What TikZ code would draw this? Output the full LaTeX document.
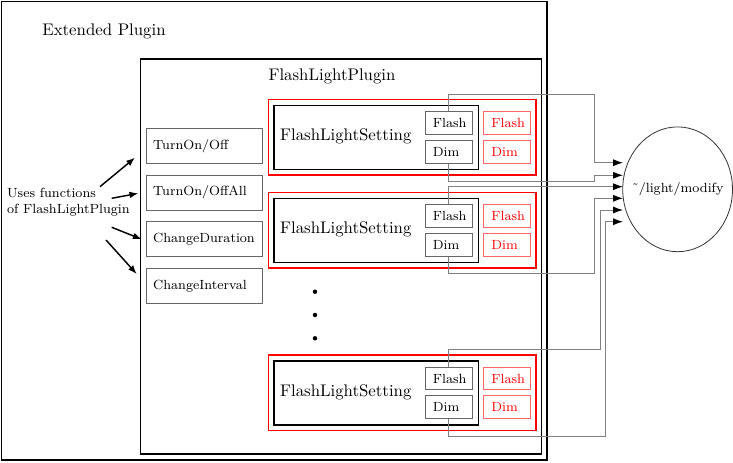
\documentclass[tikz,border=0pt]{standalone}
\usetikzlibrary{arrows.meta,shapes.geometric,fit}
\begin{document}
\begin{tikzpicture}[x=0.625pt,y=-0.625pt,
  big/.style={font=\fontsize{10.5}{12.6}\selectfont},
  small/.style={font=\fontsize{8.3}{9.9}\selectfont},
  frame/.style={draw=black,line width=0.9pt,inner sep=0pt},
  redframe/.style={draw=red,line width=0.9pt,inner sep=0pt},
  cell/.style={draw=black!60,line width=0.5pt,inner sep=0pt},
  redcell/.style={draw=red!60,line width=0.5pt,inner sep=0pt},
  button/.style={draw=black!60,line width=0.5pt,inner sep=0pt},
  conn/.style={draw=black!50,line width=0.6pt,-{Latex[length=6.2pt,width=4.4pt,color=black]}},
  push/.style={draw=black,line width=0.9pt,-{Latex[length=5.5pt,width=4.2pt]}},
  dot/.style={circle,fill=black,inner sep=0pt,minimum size=2.8pt}
]
\useasboundingbox (0,0) rectangle (733,462);

% outer frames
\node[frame,fit={(1.5,1.5) (547,460)}] (outer) {};
\node[big] (extl) at (104,31) {Extended Plugin};
\node[frame,fit={(140.7,59) (541.3,454)}] (plugin) {};
\node[big] (plugl) at (332,76) {FlashLightPlugin};

% buttons
\node[button,fit={(146,128.3) (262.3,163.3)}] (bt1) {};
\node[small,anchor=west] (bl1) at (147.5,145.8) {TurnOn/Off};
\node[button,fit={(146,175) (262.3,210)}] (bt2) {};
\node[small,anchor=west] (bl2) at (147.5,192.5) {TurnOn/OffAll};
\node[button,fit={(146,221.7) (262.3,256.7)}] (bt3) {};
\node[small,anchor=west] (bl3) at (147.5,239.2) {ChangeDuration};
\node[button,fit={(146,268.3) (262.3,303.3)}] (bt4) {};
\node[small,anchor=west] (bl4) at (147.5,285.8) {ChangeInterval};

% user text and arrows
\node[small,anchor=west,align=left] (uses) at (1.5,202) {Uses functions\\of FlashLightPlugin};
\coordinate (a1) at (100,186.7);  \coordinate (b1) at (135,157.7);
\coordinate (a2) at (111.7,198.3); \coordinate (b2) at (138.3,193.3);
\coordinate (a3) at (111.7,227.3); \coordinate (b3) at (141.7,239.3);
\coordinate (a4) at (106,240);    \coordinate (b4) at (136.7,274);
\draw[push] (a1) -- (b1);
\draw[push] (a2) -- (b2);
\draw[push] (a3) -- (b3);
\draw[push] (a4) -- (b4);

% setting blocks
\foreach \o/\n in {0/1,93/2,255.5/3}{
  \node[redframe,fit={(268.3,{99.7+\o}) (536,{175+\o})}] (r\n) {};
  \node[frame,fit={(274,{105.7+\o}) (478.3,{169.3+\o})}] (s\n) {};
  \node[big,anchor=west] (st\n) at (274.5,{136.5+\o}) {FlashLightSetting};
  \node[cell,fit={(425.7,{111.7+\o}) (472,{134.3+\o})}] (f\n) {};
  \node[small,anchor=west] (ft\n) at ([xshift=1.2pt]f\n.west) {Flash};
  \node[cell,fit={(425.7,{140.3+\o}) (472,{163.3+\o})}] (d\n) {};
  \node[small,anchor=west] (dt\n) at ([xshift=1.2pt]d\n.west) {Dim};
  \node[redcell,fit={(483.3,{111.7+\o}) (530.3,{134.3+\o})}] (rf\n) {};
  \node[small,anchor=west,text=red] (rft\n) at ([xshift=1.8pt]rf\n.west) {Flash};
  \node[redcell,fit={(483.3,{140.3+\o}) (530.3,{163.3+\o})}] (rd\n) {};
  \node[small,anchor=west,text=red] (rdt\n) at ([xshift=1.8pt]rd\n.west) {Dim};
}

% dots
\node[dot] (dd1) at (315,291.7) {};
\node[dot] (dd2) at (315,315) {};
\node[dot] (dd3) at (315,338.3) {};

% service ellipse
\node[ellipse,draw=black!80,line width=0.5pt,inner sep=0pt,
      minimum width=68.6pt,minimum height=78pt] (srv) at (677.6,189.3) {};
\node[small] (srvl) at (677.6,189.3) {\char"02DC/light/modify};

% arrow tips
\coordinate (t1) at (623,162.7);
\coordinate (t2) at (623,175.3);
\coordinate (t3) at (623,186.7);
\coordinate (t4) at (623,198.3);
\coordinate (t5) at (623,210);
\coordinate (t6) at (623,221.7);

% connectors
\draw[conn] (f1.north) |- (594,94) |- (t1);
\draw[conn] (d1.south) |- (594,181) |- (t2);
\draw[conn] (f2.north) |- (t3);
\draw[conn] (d2.south) |- (594,273.3) |- (t4);
\draw[conn] (f3.north) |- (600,349.3) |- (t5);
\draw[conn] (d3.south) |- (605.5,436.7) |- (t6);
\end{tikzpicture}
\end{document}
